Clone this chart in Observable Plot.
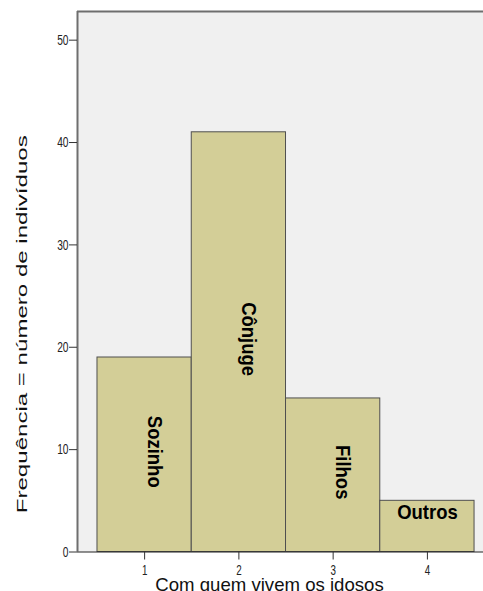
<!DOCTYPE html>
<html><head><meta charset="utf-8">
<script src="https://cdn.jsdelivr.net/npm/d3@7"></script>
<script src="https://cdn.jsdelivr.net/npm/@observablehq/plot@0.6"></script>
<style>html,body{margin:0;padding:0;background:#fff}</style>
</head><body><div id="chart"></div>
<script>
// --- data ---
const categories = ["Sozinho", "Cônjuge", "Filhos", "Outros"];
const codes = [1, 2, 3, 4];
const counts = [19, 41, 15, 5];
const yTicks = [0, 10, 20, 30, 40, 50];
const xTicks = [1, 2, 3, 4];
const xTitle = "Com quem vivem os idosos";
const yTitle = "Frequência = número de indivíduos";

const xDomain = [0.288, 4.595];
const yDomain = [0, 52.8];

const data = codes.map((c, i) => ({code: c, label: categories[i], count: counts[i]}));

const FONT = "'Liberation Sans', Arial, Helvetica, sans-serif";

const plot = Plot.plot({
  width: 483,
  height: 591,
  marginLeft: 77,
  marginRight: 0,
  marginTop: 11,
  marginBottom: 39.5,
  style: {fontFamily: FONT, background: "white", color: "#222", overflow: "visible"},
  x: {domain: xDomain, axis: null},
  y: {domain: yDomain, axis: null},
  marks: [
    Plot.frame({fill: "#F0F0F0"}),
    Plot.rectY(data, {
      x1: d => d.code - 0.5, x2: d => d.code + 0.5, y: "count",
      fill: "#D3CE97", stroke: "#4f4f4f", strokeWidth: 1
    }),
    Plot.ruleX([xDomain[0]], {stroke: "#6e6e6e", strokeWidth: 2}),
    Plot.ruleY([yDomain[1]], {stroke: "#6e6e6e", strokeWidth: 2}),
    Plot.ruleY([0], {stroke: "#222", strokeWidth: 1}),
    Plot.axisY({ticks: yTicks, tickFormat: d => String(d), tickSize: 8, tickPadding: 1, fontSize: 15, fontFamily: FONT, stroke: "#333", fill: "#222", label: null}),
    Plot.axisX({ticks: xTicks, tickFormat: d => String(d), tickSize: 8, tickPadding: 5, fontSize: 14, fontFamily: FONT, stroke: "#333", fill: "#222", label: null}),
    // bar labels: rotated where they fit, horizontal on the short bar
    Plot.text(data.filter(d => d.count >= 10), {
      x: "code", y: d => d.count / 2, text: "label", rotate: 90,
      dx: 10, dy: -3, fontSize: 21, fontWeight: "bold", fill: "#000", fontFamily: FONT
    }),
    Plot.text(data.filter(d => d.count < 10), {
      x: "code", y: "count", text: "label",
      dy: 11, fontSize: 21, fontWeight: "bold", fill: "#000", fontFamily: FONT
    }),
    // axis titles
    Plot.text([yTitle], {
      text: d => d, frameAnchor: "left", textAnchor: "middle", lineAnchor: "middle", rotate: -90,
      dx: -55, dy: 42.5, fontSize: 14.5, fill: "#111", fontFamily: FONT
    }),
    Plot.text([xTitle], {
      text: d => d, frameAnchor: "bottom", textAnchor: "middle", lineAnchor: "bottom",
      dx: -11, dy: 38.5, fontSize: 18.6, fill: "#111", fontFamily: FONT
    })
  ]
});

document.getElementById("chart").appendChild(plot);

// compression / stretching of glyphs along the text direction
const yTickStr = yTicks.map(String);
const xTickStr = xTicks.map(String);
d3.select(plot).selectAll("text").each(function () {
  const t = this.textContent;
  let f = null;
  if (categories.includes(t)) f = 0.88;
  else if (yTickStr.includes(t)) f = 0.68;
  else if (xTickStr.includes(t)) f = 0.70;
  else if (t === yTitle) f = 1.66;
  if (f !== null) {
    const L = this.getComputedTextLength();
    this.setAttribute("textLength", (L * f).toFixed(2));
    this.setAttribute("lengthAdjust", "spacingAndGlyphs");
  }
});
</script>
</body></html>
